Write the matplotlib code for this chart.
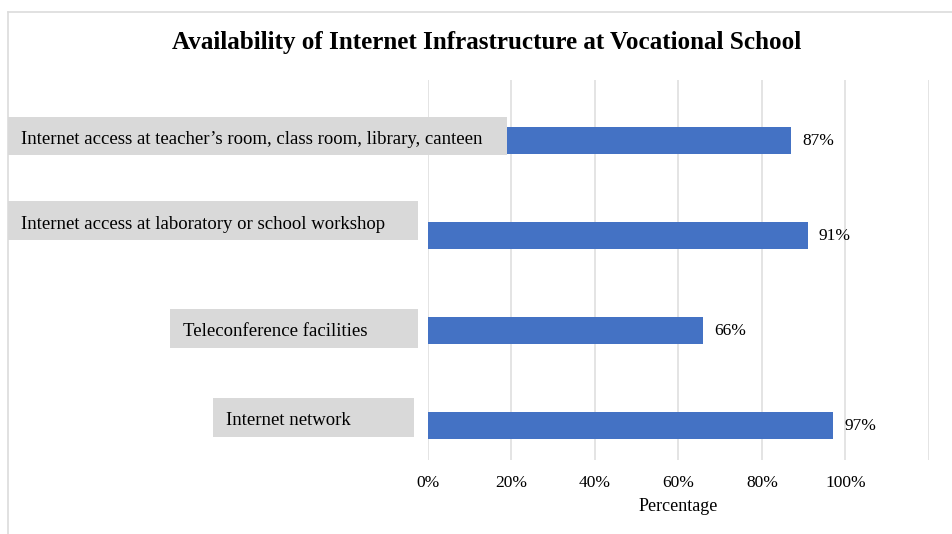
import matplotlib
matplotlib.use("Agg")
import matplotlib.pyplot as plt
from matplotlib.patches import Rectangle
from matplotlib.lines import Line2D
import numpy as np

plt.rcParams['font.family'] = ['Liberation Serif', 'DejaVu Serif']

# Data
categories = [
    "Internet access at teacher\u2019s room, class room, library, canteen",
    "Internet access at laboratory or school workshop",
    "Teleconference facilities",
    "Internet network",
]
values = [0.87, 0.91, 0.66, 0.97]
tick_values = [0.0, 0.2, 0.4, 0.6, 0.8, 1.0, 1.2]
tick_labels = ["0%", "20%", "40%", "60%", "80%", "100%", ""]
title = "Availability of Internet Infrastructure at Vocational School"
x_label = "Percentage"

W, H = 952, 534
fig = plt.figure(figsize=(W / 100, H / 100), dpi=100)


def fx(px):
    return px / W


def fy(py):
    return 1 - py / H


# Plot area (pixel layout)
left, right, top, bottom = 427.7, 929.0, 80.0, 460.0
ax = fig.add_axes([fx(left), fy(bottom), fx(right - left), (bottom - top) / H])

bar_color = "#4472C4"
grid_color = "#dcdcdc"

ypos = np.arange(len(categories))
ax.barh(ypos, values, height=0.284, color=bar_color, zorder=2)

ax.set_xlim(0, 1.2)
ax.set_ylim(3.363, -0.637)
ax.set_xticks(tick_values)
ax.set_xticklabels(tick_labels)
ax.set_yticks([])
ax.tick_params(axis='x', length=0, pad=11, labelsize=12.5, colors='black')
for s in ax.spines.values():
    s.set_visible(False)
ax.xaxis.grid(True, color=grid_color, linewidth=1.1, zorder=0)
ax.set_axisbelow(True)
ax.set_xlabel(x_label, fontsize=13, labelpad=5)

# Value labels at bar ends
for y, v in zip(ypos, values):
    ax.annotate(f"{v * 100:.0f}%", xy=(v, y), xytext=(8, 0),
                textcoords="offset points", va="center", ha="left",
                fontsize=12.5, color="black")

# Title
fig.text(fx(487), fy(49.3), title, ha="center", va="baseline",
         fontsize=18.1, fontweight="bold", color="black")

# Category label boxes (pixel layout: x0, x1, y0, y1, text x, baseline)
box_layout = [
    (8, 507, 117, 155, 21, 144),
    (8, 418, 201, 240, 21, 229.3),
    (170, 418, 309, 348, 183, 336),
    (213, 414, 398, 437, 226, 425),
]
for label, (x0, x1, y0, y1, tx, tb) in zip(categories, box_layout):
    fig.add_artist(Rectangle((fx(x0), fy(y1)), fx(x1 - x0), (y1 - y0) / H,
                             transform=fig.transFigure, facecolor="#d9d9d9",
                             edgecolor="none", zorder=3))
    fig.text(fx(tx), fy(tb), label, ha="left", va="baseline",
             fontsize=13.5, color="black", zorder=4)

# Outer frame lines
fig.add_artist(Line2D([fx(8), fx(952)], [fy(11.5), fy(11.5)],
                      transform=fig.transFigure, color=grid_color, lw=1.2))
fig.add_artist(Line2D([fx(8), fx(8)], [fy(11.5), fy(534)],
                      transform=fig.transFigure, color=grid_color, lw=1.2))

fig.savefig("out.png", dpi=100, facecolor="white")
